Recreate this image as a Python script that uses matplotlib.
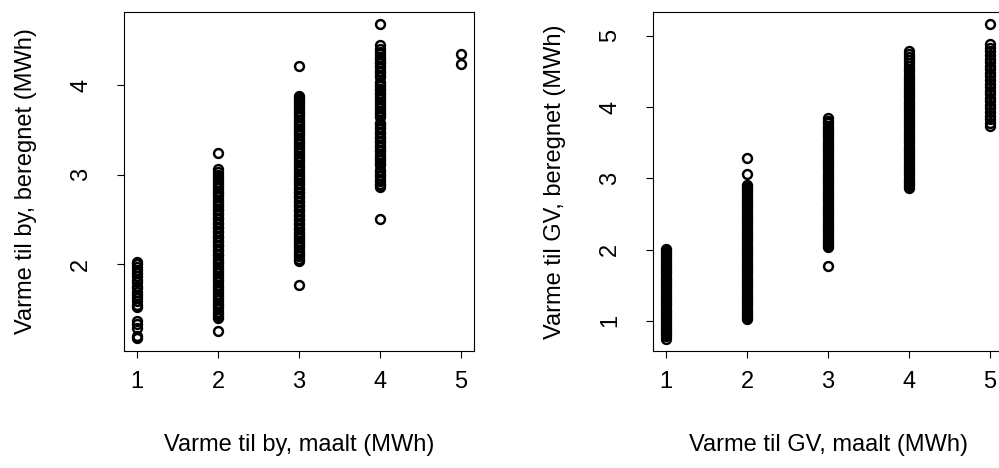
import matplotlib.pyplot as plt

plt.rcParams['font.family'] = ['Liberation Sans', 'DejaVu Sans']

# measured heat (MWh), rounded classes on the x axis
maalt = [1, 2, 3, 4, 5]

# calculated heat to town, one list per measured class
by_1 = [1.18, 1.20, 1.29, 1.33, 1.37, 1.52, 1.55, 1.59, 1.62, 1.66, 1.69, 1.73,
        1.76, 1.80, 1.83, 1.87, 1.90, 1.94, 1.97, 2.00, 2.03]
by_2 = [1.26,
        1.40, 1.42, 1.45, 1.47, 1.50, 1.52, 1.55, 1.57, 1.60, 1.62, 1.65, 1.67,
        1.70, 1.72, 1.75, 1.77, 1.80, 1.82, 1.85, 1.87, 1.90, 1.92, 1.95, 1.97,
        2.00, 2.02, 2.05, 2.07, 2.10, 2.12, 2.15, 2.17, 2.20, 2.22, 2.25, 2.27,
        2.30, 2.32, 2.35, 2.37, 2.40, 2.42, 2.45, 2.47, 2.50, 2.52, 2.55, 2.57,
        2.60, 2.62, 2.65, 2.67, 2.70, 2.72, 2.75, 2.77, 2.80, 2.82, 2.85, 2.87,
        2.90, 2.92, 2.95, 2.97, 3.00, 3.03, 3.06,
        3.24]
by_3 = [1.77,
        2.04, 2.06, 2.09, 2.11, 2.14, 2.16, 2.19, 2.21, 2.24, 2.26, 2.29, 2.31,
        2.34, 2.36, 2.39, 2.41, 2.44, 2.46, 2.49, 2.51, 2.54, 2.56, 2.59, 2.61,
        2.64, 2.66, 2.69, 2.71, 2.74, 2.76, 2.79, 2.81, 2.84, 2.86, 2.89, 2.91,
        2.94, 2.96, 2.99, 3.01, 3.04, 3.06, 3.09, 3.11, 3.14, 3.16, 3.19, 3.21,
        3.24, 3.26, 3.29, 3.31, 3.34, 3.36, 3.39, 3.41, 3.44, 3.46, 3.49, 3.51,
        3.54, 3.56, 3.59, 3.61, 3.64, 3.66, 3.69, 3.71, 3.74, 3.76, 3.79, 3.81,
        3.83, 3.85, 3.88,
        4.21]
by_4 = [2.51,
        2.86, 2.88, 2.90, 2.93, 2.95, 2.98, 3.00, 3.03, 3.05, 3.11, 3.13, 3.16,
        3.18, 3.21, 3.23, 3.26, 3.28, 3.31, 3.33, 3.36, 3.38, 3.41, 3.43, 3.46,
        3.48, 3.51, 3.53, 3.56, 3.58, 3.64, 3.66, 3.69, 3.71, 3.74, 3.76, 3.79,
        3.81, 3.84, 3.86, 3.89, 3.91, 3.94, 3.96, 3.99, 4.01, 4.03, 4.09, 4.11,
        4.14, 4.16, 4.19, 4.21, 4.24, 4.26, 4.29, 4.31, 4.34, 4.37, 4.40, 4.44,
        4.68]
by_5 = [4.23, 4.35]
by_beregnet = [by_1, by_2, by_3, by_4, by_5]

# calculated heat to GV, one list per measured class
gv_1 = [0.75, 0.78, 0.81, 0.84, 0.87, 0.90, 0.93, 0.96, 0.99, 1.02, 1.05, 1.08,
        1.11, 1.14, 1.17, 1.20, 1.23, 1.26, 1.29, 1.32, 1.35, 1.38, 1.41, 1.44,
        1.47, 1.50, 1.53, 1.56, 1.59, 1.62, 1.65, 1.68, 1.71, 1.74, 1.77, 1.80,
        1.83, 1.86, 1.89, 1.92, 1.95, 1.98, 2.01]
gv_2 = [1.02, 1.05, 1.08, 1.11, 1.14, 1.17, 1.20, 1.23, 1.26, 1.29, 1.32, 1.35,
        1.38, 1.41, 1.44, 1.47, 1.50, 1.53, 1.56, 1.59, 1.62, 1.65, 1.68, 1.71,
        1.74, 1.77, 1.80, 1.83, 1.86, 1.89, 1.92, 1.95, 1.98, 2.01, 2.04, 2.07,
        2.10, 2.13, 2.16, 2.19, 2.22, 2.25, 2.28, 2.31, 2.34, 2.37, 2.40, 2.43,
        2.46, 2.49, 2.52, 2.55, 2.58, 2.61, 2.64, 2.67, 2.70, 2.73, 2.76, 2.79,
        2.82, 2.85, 2.88, 2.91,
        3.06, 3.29]
gv_3 = [1.77,
        2.03, 2.06, 2.09, 2.12, 2.15, 2.18, 2.21, 2.24, 2.27, 2.30, 2.33, 2.36,
        2.39, 2.42, 2.45, 2.48, 2.51, 2.54, 2.57, 2.60, 2.63, 2.66, 2.69, 2.72,
        2.75, 2.78, 2.81, 2.84, 2.87, 2.90, 2.93, 2.96, 2.99, 3.02, 3.05, 3.08,
        3.11, 3.14, 3.17, 3.20, 3.23, 3.26, 3.29, 3.32, 3.35, 3.38, 3.41, 3.44,
        3.47, 3.50, 3.53, 3.56, 3.59, 3.62, 3.65, 3.68, 3.71, 3.74, 3.77, 3.80,
        3.84]
gv_4 = [2.86, 2.89, 2.92, 2.95, 2.98, 3.01, 3.04, 3.07, 3.10, 3.13, 3.16, 3.19,
        3.22, 3.25, 3.28, 3.31, 3.34, 3.37, 3.40, 3.43, 3.46, 3.49, 3.52, 3.55,
        3.58, 3.61, 3.64, 3.67, 3.70, 3.73, 3.76, 3.79, 3.82, 3.85, 3.88, 3.91,
        3.94, 3.97, 4.00, 4.03, 4.06, 4.09, 4.12, 4.15, 4.18, 4.21, 4.24, 4.27,
        4.30, 4.33, 4.36, 4.39, 4.42, 4.46, 4.50, 4.54, 4.58, 4.62, 4.66, 4.70,
        4.74, 4.78]
gv_5 = [3.73, 3.78, 3.83, 3.88, 3.93, 3.98, 4.03, 4.08, 4.13, 4.18, 4.23, 4.28,
        4.33, 4.38, 4.43, 4.48, 4.53, 4.58, 4.63, 4.68, 4.73, 4.78, 4.83, 4.88,
        5.16]
gv_beregnet = [gv_1, gv_2, gv_3, gv_4, gv_5]

fig = plt.figure(figsize=(9.99, 4.68), dpi=100)
ax1 = fig.add_axes([0.1241, 0.2506, 0.3504, 0.7231])
ax2 = fig.add_axes([0.6537, 0.2506, 0.3504, 0.7231])

panels = [
    (ax1, by_beregnet, (1.036, 4.81), [2, 3, 4],
     'Varme til by, maalt (MWh)', 'Varme til by, beregnet (MWh)'),
    (ax2, gv_beregnet, (0.579, 5.33), [1, 2, 3, 4, 5],
     'Varme til GV, maalt (MWh)', 'Varme til GV, beregnet (MWh)'),
]

fs = 17

for ax, groups, ylim, yticks, xlab, ylab in panels:
    for x, vals in zip(maalt, groups):
        ax.plot([x] * len(vals), vals, linestyle='none', marker='o',
                mfc='none', mec='black', ms=6.4, mew=1.75)
    ax.set_xlim(0.84, 5.16)
    ax.set_ylim(*ylim)
    ax.set_xticks(maalt)
    ax.set_xticklabels([str(v) for v in maalt], fontsize=fs)
    ax.set_yticks(yticks)
    ax.set_yticklabels([str(v) for v in yticks], rotation=90, va='center',
                       fontsize=fs)
    ax.tick_params(direction='out', length=5, width=0.8)
    ax.tick_params(axis='x', pad=9.5)
    ax.tick_params(axis='y', pad=18)
    for s in ax.spines.values():
        s.set_linewidth(0.8)
        s.set_color('black')
    ax.set_xlabel(xlab, fontsize=fs, labelpad=29.5)
    ax.set_ylabel(ylab, fontsize=fs, labelpad=23.5)

plt.savefig('out.png', dpi=100)
